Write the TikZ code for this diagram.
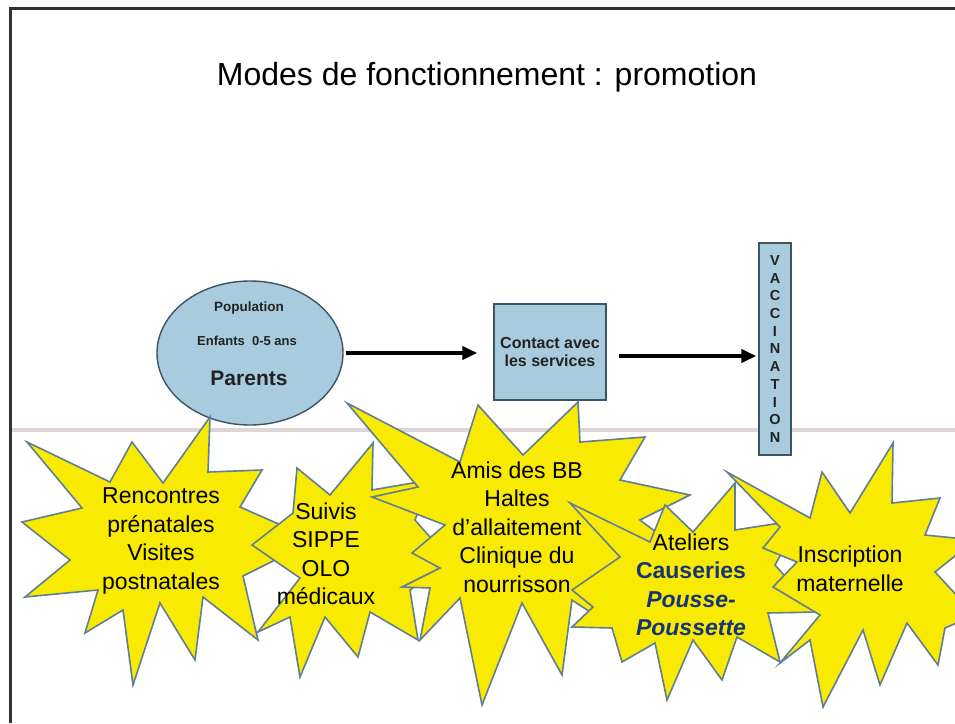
\documentclass[tikz,border=0pt]{standalone}
\usepackage{fontspec}
\setmainfont{Liberation Sans}
\usetikzlibrary{shapes.geometric,arrows.meta}

\definecolor{staryellow}{RGB}{248,234,0}
\definecolor{staredge}{RGB}{96,126,150}
\definecolor{boxblue}{RGB}{168,204,222}
\definecolor{boxedge}{RGB}{62,84,100}
\definecolor{cblue}{RGB}{22,52,122}
\definecolor{framegray}{RGB}{50,50,50}
\definecolor{scanline}{RGB}{222,214,214}
\definecolor{inkgray}{RGB}{34,34,34}

\tikzset{
  starburst/.style={fill=staryellow, draw=staredge, line width=1.6pt, line join=miter, miter limit=20},
  startext/.style={align=center, inner sep=0pt, text=black, font=\fontsize{23}{28.5}\selectfont},
  bluebox/.style={fill=boxblue, draw=boxedge, line width=1.4pt},
  flowarrow/.style={line width=4pt, -{Triangle[length=15pt,width=13pt]}},
  boldlabel/.style={inner sep=0pt, text=inkgray}
}

\begin{document}
\begin{tikzpicture}[x=1pt,y=-1pt]
\useasboundingbox (0,0) rectangle (955,723);
\fill[white] (0,0) rectangle (955,723);

% faint rule across the page
\fill[scanline] (10,428) rectangle (955,432);

% page frame
\draw[framegray, line width=3pt] (10,723) -- (10,8) -- (955,8);

% title
\node[inner sep=0pt, font=\fontsize{32}{37}\selectfont] (title) at (487,77)
  {Modes de fonctionnement : promotion};

% population ellipse
\node[ellipse, bluebox, minimum width=186pt, minimum height=144pt] (pop) at (250,353) {};
\node[boldlabel, font=\bfseries\fontsize{13.5}{16}\selectfont] (popt) at (249,308) {Population};
\node[boldlabel, font=\bfseries\fontsize{13}{16}\selectfont] (popk) at (247,341) {Enfants\ \ 0-5 ans};
\node[boldlabel, font=\bfseries\fontsize{21}{24}\selectfont] (popp) at (249,378) {Parents};

% services box
\node[bluebox, minimum width=112pt, minimum height=96pt, align=center, inner sep=0pt,
      text=inkgray, font=\bfseries\fontsize{16}{18.5}\selectfont] (contact) at (550,352)
  {Contact avec\\les services};

% vaccination column
\node[bluebox, minimum width=32pt, minimum height=212pt, align=center, inner sep=0pt,
      text=inkgray, font=\bfseries\fontsize{14.5}{17.7}\selectfont] (vacc) at (775,349)
  {V\\A\\C\\C\\I\\N\\A\\T\\I\\O\\N};

% flow arrows
\draw[flowarrow, shorten <=2pt, shorten >=16pt] (pop.east) -- (pop.east -| contact.west);
\draw[flowarrow, shorten <=12pt, shorten >=2pt] ([yshift=-4pt]contact.east) -- ([yshift=-4pt]contact.east -| vacc.west);

% starburst 1
\filldraw[starburst] (27,442) -- (110,482) -- (132,442) -- (163,483) -- (210,417) -- (208,472)
  -- (262,470) -- (240,507) -- (315,540) -- (243,576) -- (258,640) -- (203,597) -- (195,660)
  -- (160,603) -- (133,685) -- (123,610) -- (85,633) -- (98,590) -- (25,597) -- (70,560)
  -- (22,522) -- (82,508) -- cycle;
\node[startext] (rencontres) at (161,541) {Rencontres\\prénatales\\Visites\\postnatales};

% starburst 2
\filldraw[starburst] (252,545) -- (293,513) -- (297,468) -- (330,495) -- (373,443) -- (372,490)
  -- (430,480) -- (415,520) -- (450,560) -- (410,590) -- (418,640) -- (370,612) -- (358,657)
  -- (325,617) -- (300,677) -- (290,617) -- (258,632) -- (300,578) -- cycle;
\node[startext] (suivis) at (326,554) {Suivis\\SIPPE\\OLO\\médicaux};

% starburst 3
\filldraw[starburst] (347,403) -- (460,462) -- (478,405) -- (523,455) -- (578,402) -- (580,442)
  -- (645,437) -- (620,480) -- (690,495) -- (640,520) -- (700,565) -- (645,600) -- (640,645)
  -- (572,600) -- (562,675) -- (522,603) -- (482,705) -- (460,598) -- (420,640) -- (430,588)
  -- (402,587) -- (440,568) -- (412,553) -- (445,525) -- (372,497) -- (418,487) -- cycle;
\node[startext] (amis) at (517,527) {Amis des BB\\Haltes\\d’allaitement\\Clinique du\\nourrisson};

% starburst 4
\filldraw[starburst] (570,503) -- (650,542) -- (665,505) -- (693,532) -- (735,483) -- (735,530)
  -- (800,520) -- (775,565) -- (817,612) -- (768,613) -- (780,662) -- (737,637) -- (722,680)
  -- (693,640) -- (667,700) -- (655,643) -- (622,662) -- (612,628) -- (572,627) -- (593,607)
  -- (572,590) -- (620,557) -- cycle;
\node[startext] (ateliers) at (691,585)
  {Ateliers\\\textcolor{cblue}{\bfseries Causeries}\\\textcolor{cblue}{\bfseries\itshape Pousse-}\\\textcolor{cblue}{\bfseries\itshape Poussette}};

% starburst 5
\filldraw[starburst] (727,472) -- (810,518) -- (822,472) -- (850,513) -- (893,443) -- (892,503)
  -- (940,498) -- (925,535) -- (975,540) -- (935,572) -- (975,615) -- (945,628) -- (938,665)
  -- (907,623) -- (880,685) -- (863,630) -- (823,707) -- (810,640) -- (780,663) -- (820,615)
  -- (773,587) -- (797,562) -- (763,548) -- (780,527) -- cycle;
\node[startext] (inscription) at (850,569) {Inscription\\maternelle};
\end{tikzpicture}
\end{document}
